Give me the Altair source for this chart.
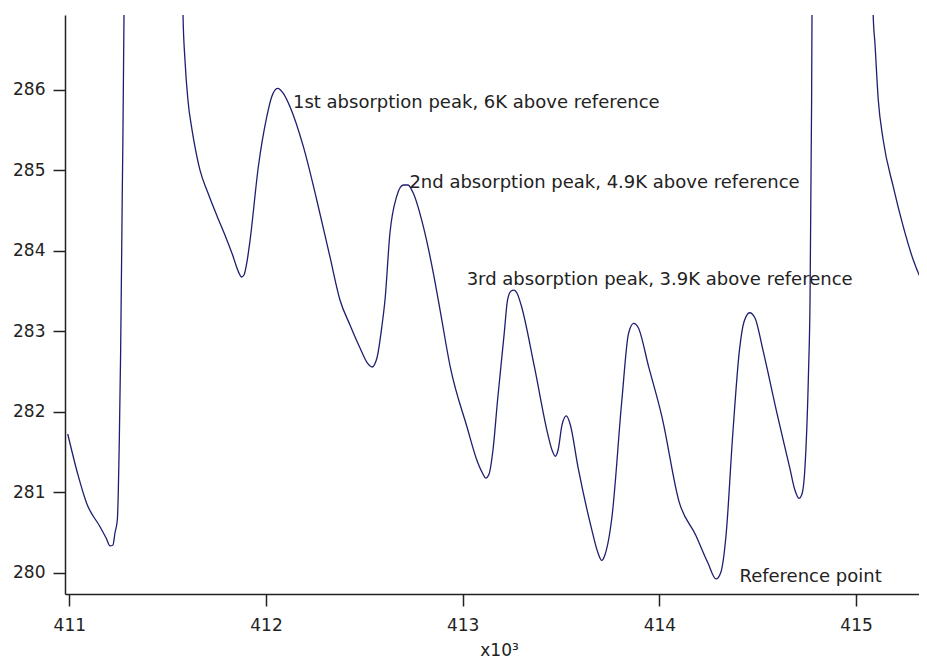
import altair as alt
import pandas as pd

# ---- curve data (x in units of 10^3, y in K) ----
seg_a_x = [410.992, 411.044, 411.088, 411.156, 411.187, 411.207, 411.222, 411.232,
           411.244, 411.249, 411.254, 411.261, 411.269, 411.278, 411.283]
seg_a_y = [281.723, 281.214, 280.862, 280.571, 280.431, 280.332, 280.344, 280.493,
           280.655, 281.006, 281.627, 282.766, 284.671, 286.928, 289.6]

seg_b_x = [411.573, 411.578, 411.588, 411.603, 411.624, 411.644, 411.664, 411.705,
           411.751, 411.797, 411.832, 411.847, 411.865, 411.875, 411.888, 411.903,
           411.919, 411.961,
           412.004, 412.029, 412.059, 412.088, 412.122, 412.190, 412.258, 412.325,
           412.376, 412.427, 412.478, 412.519, 412.539, 412.564, 412.590, 412.605,
           412.630, 412.664, 412.698, 412.722, 412.749, 412.800, 412.851, 412.885,
           412.937, 413.023, 413.074, 413.103, 413.117, 413.134, 413.154, 413.177,
           413.211, 413.228, 413.246, 413.261, 413.276, 413.297, 413.365, 413.433,
           413.454, 413.471, 413.485, 413.505, 413.527, 413.546, 413.587, 413.655,
           413.688, 413.707, 413.723, 413.758, 413.809, 413.843, 413.869, 413.891,
           413.946, 414.014, 414.100, 414.185, 414.247, 414.288, 414.313, 414.339,
           414.373, 414.407, 414.430, 414.459, 414.486, 414.527, 414.595, 414.663,
           414.689, 414.710, 414.725, 414.740, 414.758, 414.766, 414.774, 414.776,
           414.779]
seg_b_y = [289.6, 286.928, 286.369, 285.872, 285.499, 285.226, 285.003, 284.717,
           284.431, 284.158, 283.934, 283.822, 283.710, 283.673, 283.698, 283.859,
           284.132, 285.043,
           285.665, 285.913, 286.017, 285.955, 285.789, 285.292, 284.630, 283.925,
           283.388, 283.077, 282.791, 282.593, 282.555, 282.667, 283.077, 283.388,
           284.216, 284.671, 284.816, 284.816, 284.713, 284.298, 283.719, 283.263,
           282.553, 281.801, 281.384, 281.226, 281.174, 281.226, 281.524, 282.135,
           282.970, 283.388, 283.499, 283.511, 283.474, 283.325, 282.553, 281.717,
           281.524, 281.446, 281.524, 281.835, 281.947, 281.847, 281.301, 280.548,
           280.245, 280.152, 280.220, 280.673, 282.135, 282.970, 283.096, 283.052,
           282.553, 281.927, 280.882, 280.465, 280.120, 279.922, 280.009, 280.465,
           281.717, 282.761, 283.114, 283.229, 283.164, 282.761, 282.010, 281.301,
           281.027, 280.924, 280.978, 281.301, 282.468, 283.388, 285.872, 286.928,
           289.6]

seg_c_x = [415.083, 415.087, 415.096, 415.113, 415.138, 415.189, 415.240, 415.291,
           415.342, 415.376]
seg_c_y = [289.6, 286.928, 286.576, 285.872, 285.375, 284.795, 284.298, 283.884,
           283.595, 283.487]

# ---- annotations ----
ann_text = ["1st absorption peak, 6K above reference",
            "2nd absorption peak, 4.9K above reference",
            "3rd absorption peak, 3.9K above reference",
            "Reference point"]
ann_x = [412.137, 412.729, 413.020, 414.407]
ann_y = [285.773, 284.775, 283.574, 279.880]

x_ticks = [411, 412, 413, 414, 415]
y_ticks = [280, 281, 282, 283, 284, 285, 286]

rows = []
for name, xs, ys in (("a", seg_a_x, seg_a_y), ("b", seg_b_x, seg_b_y), ("c", seg_c_x, seg_c_y)):
    for i, (xv, yv) in enumerate(zip(xs, ys)):
        rows.append({"seg": name, "i": i, "x": xv, "y": yv})
curve = pd.DataFrame(rows)
ann = pd.DataFrame({"x": ann_x, "y": ann_y, "t": ann_text})

FONT = "DejaVu Sans"
INK = "#222222"

x_scale = alt.Scale(domain=[410.978, 415.320], nice=False, zero=False)
y_scale = alt.Scale(domain=[279.735, 286.928], nice=False, zero=False)

x_axis = alt.Axis(values=x_ticks, format="d", grid=False, tickSize=12, labelPadding=11,
                  labelFont=FONT, labelFontSize=17, labelColor=INK, labelFlush=False,
                  domainColor=INK, domainWidth=1.5, tickColor=INK, tickWidth=1.5,
                  title="x10³", titleFont=FONT, titleFontSize=17, titleFontWeight="normal",
                  titleColor=INK, titleX=434, titleY=61, titleBaseline="alphabetic",
                  titleAlign="center")
y_axis = alt.Axis(values=y_ticks, format="d", grid=False, tickSize=12, labelPadding=8,
                  labelFont=FONT, labelFontSize=17, labelColor=INK,
                  domainColor=INK, domainWidth=1.5, tickColor=INK, tickWidth=1.5,
                  title=None)

line = alt.Chart(curve).mark_line(clip=True, color="#1e1e6e", strokeWidth=1.3,
                                  interpolate="monotone").encode(
    x=alt.X("x:Q", scale=x_scale, axis=x_axis),
    y=alt.Y("y:Q", scale=y_scale, axis=y_axis),
    detail="seg:N",
    order="i:Q",
)

text = alt.Chart(ann).mark_text(align="left", baseline="alphabetic", font=FONT,
                                fontSize=18, color=INK).encode(
    x=alt.X("x:Q", scale=x_scale, axis=x_axis),
    y=alt.Y("y:Q", scale=y_scale, axis=y_axis),
    text="t:N",
)

chart = alt.layer(line, text).properties(
    width=854, height=579,
    padding={"left": 57, "top": 7, "right": 0, "bottom": 64},
    autosize=alt.AutoSizeParams(type="none"),
    background="white",
).configure_view(stroke=None)

chart.save("out.html", embed_options={"renderer": "svg", "actions": False})
